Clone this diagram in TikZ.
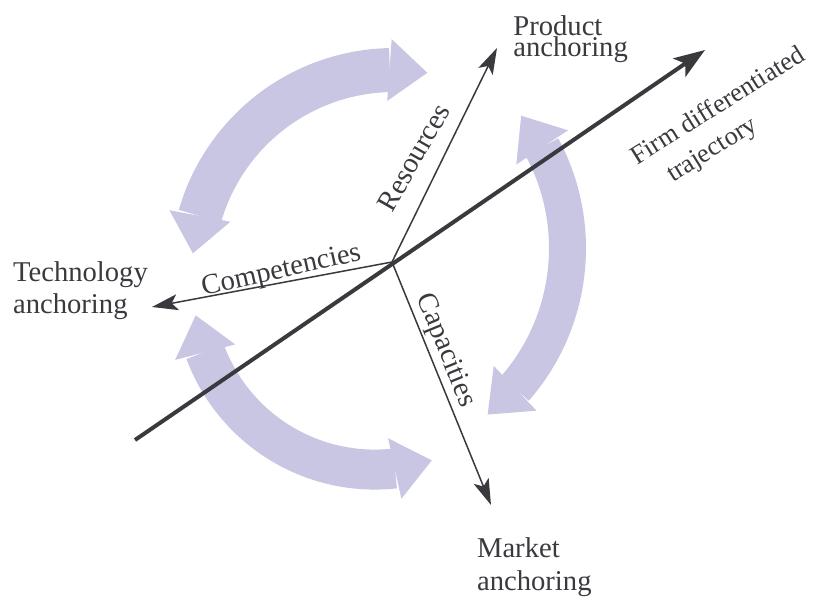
\documentclass[tikz,border=0pt]{standalone}
\usepackage{fontspec}
\setmainfont{Liberation Serif}
\usetikzlibrary{arrows.meta,bending}

\definecolor{lilac}{RGB}{200,198,227}
\definecolor{ink}{RGB}{58,57,62}

\tikzset{
  bandtip/.tip={Triangle[width=1.24cm,length=0.76cm,line width=0pt]},
  band/.style={lilac, line width=#1, bandtip-bandtip},
  axis/.style={ink, line width=0.03cm, -{Stealth[length=0.52cm,width=0.32cm,inset=0.12cm]}},
  mainaxis/.style={ink, line width=0.08cm, -{Stealth[length=0.62cm,width=0.44cm,inset=0.14cm]}},
  anchorlabel/.style={ink, align=left, inner sep=0pt, anchor=base west, font=\fontsize{16.3}{18}\selectfont},
  axislabel/.style={ink, sloped, font=\fontsize{16.3}{18}\selectfont},
}

\begin{document}
\begin{tikzpicture}[x=0.02cm, y=-0.02cm]
  \useasboundingbox (0,0) rectangle (819,596);

  % the three lilac double arrows round the crossing
  \draw[band=0.88cm] ([shift={(394,272)}]-80.5:202) arc[start angle=-80.5, end angle=-174.7, radius=202];
  \draw[band=0.74cm] ([shift={(354.5,248.3)}]-38.5:213) arc[start angle=-38.5, end angle=51.3, radius=213];
  \draw[band=0.80cm] ([shift={(374.7,288.6)}]171.5:181) arc[start angle=171.5, end angle=71.6, radius=181];

  \coordinate (O) at (392,262);
  \coordinate (res) at (497,48);
  \coordinate (comp) at (152,307);
  \coordinate (cap) at (491,505);
  \coordinate (traj0) at (135,440);
  \coordinate (traj1) at (705,50);

  \draw[mainaxis] (traj0) -- (traj1);
  \draw[axis] (O) -- node[axislabel, above=6pt, pos=.43, rotate=-3.5] {Resources} (res);
  \draw[axis] (O) -- node[axislabel, above=-1.2pt, inner sep=0pt, pos=.45, rotate=2] {Competencies} (comp);
  \draw[axis] (O) -- node[axislabel, above, inner sep=1.5pt, pos=.39] {Capacities} (cap);

  % end labels (base = last line)
  \node[anchorlabel] (prod) at (513,56) {Product\\[-6.1pt]anchoring};
  \node[anchorlabel] (tech) at (12.7,313.3) {Technology\\anchoring};
  \node[anchorlabel] (mkt) at (476.7,590.7) {Market\\[1pt]anchoring};
  \node[anchorlabel, rotate=32, font=\fontsize{15}{18}\selectfont] (firm) at (655,194)
    {Firm differentiated\\[1.3pt]\hspace*{12pt}trajectory};
\end{tikzpicture}
\end{document}
